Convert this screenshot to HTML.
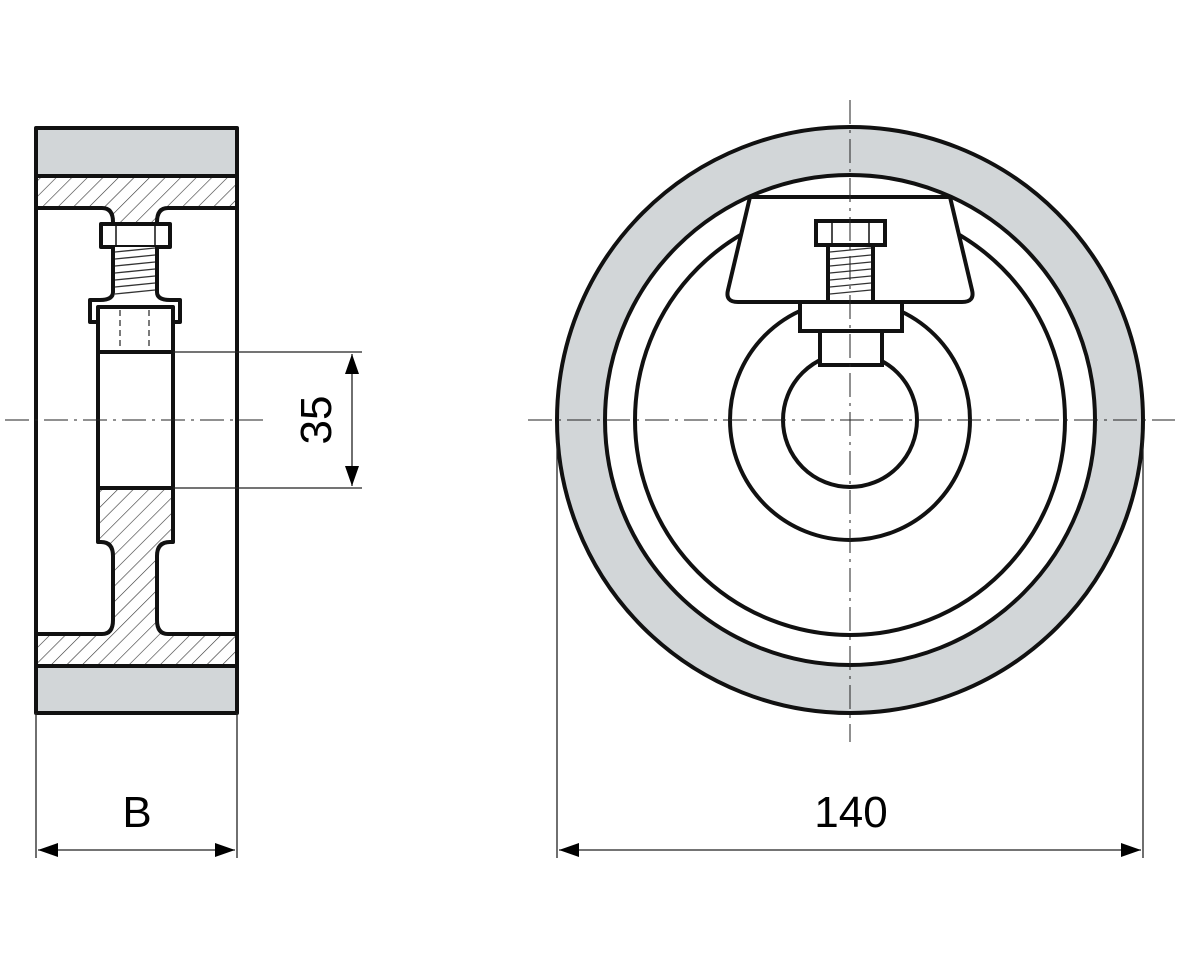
<!DOCTYPE html>
<html><head><meta charset="utf-8"><style>html,body{margin:0;padding:0;background:#fff}svg{display:block}</style></head><body>
<svg width="1200" height="960" viewBox="0 0 1200 960" xmlns="http://www.w3.org/2000/svg">
<defs>
<pattern id="h" patternUnits="userSpaceOnUse" width="11" height="11" patternTransform="rotate(45)">
<rect width="11" height="11" fill="#fff"/><line x1="0" y1="0" x2="0" y2="11" stroke="#333" stroke-width="1.2"/>
</pattern>
<marker id="a" viewBox="0 0 20 14" refX="20" refY="7" markerWidth="20" markerHeight="14" markerUnits="userSpaceOnUse" orient="auto-start-reverse"><path d="M0,0L20,7L0,14z" fill="#000"/></marker>
</defs>
<g fill="none" stroke="#111" stroke-width="4" stroke-linejoin="round">
<!-- left view -->
<rect x="36" y="128" width="201" height="48" fill="#d2d6d8"/>
<rect x="36" y="666" width="201" height="47" fill="#d2d6d8"/>
<path d="M36,176H237V208H168Q157,208 157,222V225H113V222Q113,208 102,208H36Z" fill="url(#h)"/>
<path d="M36,666H237V634H168Q157,634 157,620V556Q157,542 170,542H173V488H98V542H101Q113,542 113,556V620Q113,634 102,634H36Z" fill="url(#h)"/>
<line x1="36" y1="208" x2="36" y2="634"/><line x1="237" y1="208" x2="237" y2="634"/>
<rect x="101" y="224" width="69" height="23" fill="#fff"/>
<line x1="116" y1="224" x2="116" y2="247" stroke-width="1.5"/><line x1="155" y1="224" x2="155" y2="247" stroke-width="1.5"/>
<path d="M113,247V292Q113,300 100,300H90V322H180V300H170Q157,300 157,292V247" fill="#fff"/>
<rect x="98" y="307" width="75" height="45" fill="#fff"/>
<line x1="98" y1="352" x2="98" y2="488"/><line x1="173" y1="352" x2="173" y2="488"/>
</g>
<g stroke="#333" stroke-width="1.3">
<line x1="115" y1="252" x2="155" y2="248"/><line x1="115" y1="259" x2="155" y2="255"/><line x1="115" y1="266" x2="155" y2="262"/><line x1="115" y1="273" x2="155" y2="269"/><line x1="115" y1="280" x2="155" y2="276"/><line x1="115" y1="287" x2="155" y2="283"/><line x1="115" y1="294" x2="155" y2="290"/>
<line x1="120" y1="310" x2="120" y2="350" stroke-dasharray="6,4"/><line x1="149" y1="310" x2="149" y2="350" stroke-dasharray="6,4"/>
</g>
<!-- right view -->
<g fill="none" stroke="#111" stroke-width="4">
<circle cx="850" cy="420" r="269" stroke="#d2d6d8" stroke-width="48"/>
<circle cx="850" cy="420" r="293"/>
<circle cx="850" cy="420" r="245"/>
<circle cx="850" cy="420" r="215"/>
<circle cx="850" cy="420" r="120"/>
<circle cx="850" cy="420" r="67"/>
<path d="M750,197H950L972,290Q975,302 962,302H738Q725,302 728,290Z" fill="#fff"/>
<rect x="816" y="221" width="69" height="24" fill="#fff"/>
<line x1="832" y1="221" x2="832" y2="245" stroke-width="1.5"/><line x1="869" y1="221" x2="869" y2="245" stroke-width="1.5"/>
<rect x="828" y="245" width="45" height="57" fill="#fff"/>
<rect x="800" y="302" width="102" height="29" fill="#fff"/>
<rect x="820" y="331" width="62" height="34" fill="#fff"/>
</g>
<g stroke="#333" stroke-width="1.3">
<line x1="830" y1="252" x2="871" y2="248"/><line x1="830" y1="259" x2="871" y2="255"/><line x1="830" y1="266" x2="871" y2="262"/><line x1="830" y1="273" x2="871" y2="269"/><line x1="830" y1="280" x2="871" y2="276"/><line x1="830" y1="287" x2="871" y2="283"/><line x1="830" y1="294" x2="871" y2="290"/>
</g>
<!-- centerlines -->
<g stroke="#222" stroke-width="1" stroke-dasharray="24,6,3,6">
<line x1="5" y1="420" x2="265" y2="420"/>
<line x1="528" y1="420" x2="1175" y2="420"/>
<line x1="850" y1="100" x2="850" y2="742"/>
</g>
<!-- dimensions -->
<g stroke="#222" stroke-width="1.3">
<line x1="173" y1="352" x2="362" y2="352"/><line x1="173" y1="488" x2="362" y2="488"/>
<line x1="352" y1="354" x2="352" y2="486" marker-start="url(#a)" marker-end="url(#a)"/>
<line x1="36" y1="713" x2="36" y2="858"/><line x1="237" y1="713" x2="237" y2="858"/>
<line x1="38" y1="850" x2="235" y2="850" marker-start="url(#a)" marker-end="url(#a)"/>
<line x1="557" y1="440" x2="557" y2="858"/><line x1="1143" y1="440" x2="1143" y2="858"/>
<line x1="559" y1="850" x2="1141" y2="850" marker-start="url(#a)" marker-end="url(#a)"/>
</g>
<g font-family="Liberation Sans, DejaVu Sans, sans-serif" font-size="44" fill="#000" text-anchor="middle">
<text x="137" y="827">B</text>
<text x="851" y="827">140</text>
<text x="0" y="0" transform="translate(331,420) rotate(-90)">35</text>
</g>
</svg>
</body></html>
